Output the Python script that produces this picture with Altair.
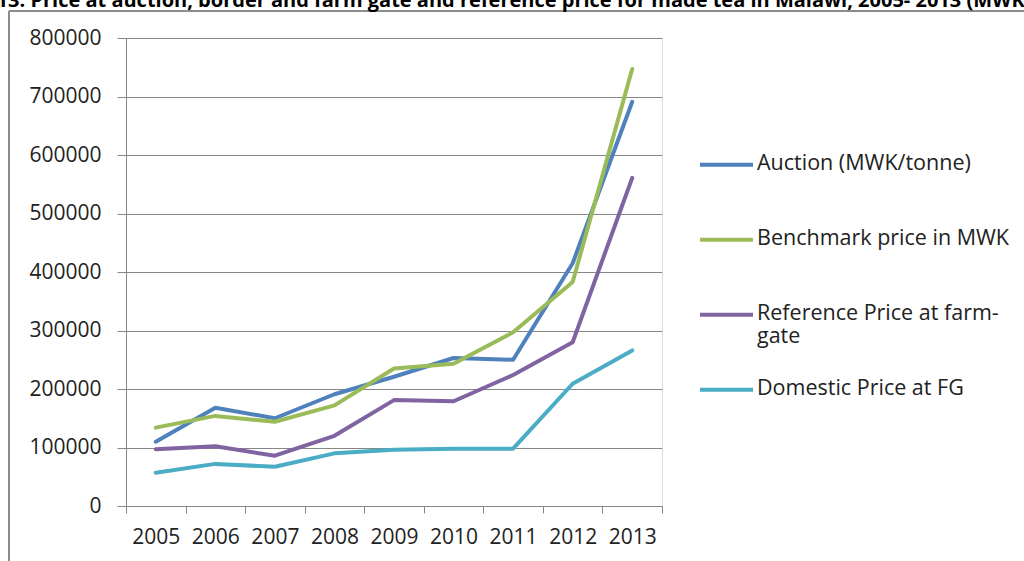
import altair as alt
import pandas as pd

years = ["2005", "2006", "2007", "2008", "2009", "2010", "2011", "2012", "2013"]

auction = [110000, 168000, 150000, 191000, 221000, 253000, 250000, 415000, 691000]
benchmark = [134000, 154000, 144000, 172000, 235000, 243000, 297000, 383000, 747000]
reference_fg = [97000, 102000, 86000, 120000, 181000, 179000, 224000, 280000, 561000]
domestic_fg = [57000, 72000, 67000, 90000, 96000, 98000, 98000, 209000, 266000]

series_names = [
    "Auction (MWK/tonne)",
    "Benchmark price in MWK",
    "Reference Price at farm-gate",
    "Domestic Price at FG",
]
series_colors = ["#4F81BD", "#9BBB59", "#8064A2", "#4BACC6"]
y_ticks = [0, 100000, 200000, 300000, 400000, 500000, 600000, 700000, 800000]

caption = ("Figure 13: Price at auction, border and farm gate and reference price "
           "for made tea in Malawi, 2005- 2013 (MWK/tonne)")

rows = []
for name, vals in zip(series_names, [auction, benchmark, reference_fg, domestic_fg]):
    for yr, v in zip(years, vals):
        rows.append({"Year": yr, "Series": name, "Price": v})
df = pd.DataFrame(rows)

FONT = "Open Sans"
GRID = "#868686"
INK = "#222222"

lines = alt.Chart(df).mark_line(
    strokeWidth=4, strokeCap="round", strokeJoin="round"
).encode(
    x=alt.X(
        "Year:N",
        sort=years,
        title=None,
        scale=alt.Scale(paddingInner=0, paddingOuter=0),
        axis=alt.Axis(
            tickBand="extent",
            tickSize=7,
            tickColor=GRID,
            domainColor=GRID,
            labelAngle=0,
            labelFontSize=21,
            labelColor=INK,
            labelFont=FONT,
            labelPadding=13,
            grid=False,
        ),
    ),
    y=alt.Y(
        "Price:Q",
        title=None,
        scale=alt.Scale(domain=[0, 800000], nice=False),
        axis=alt.Axis(
            values=y_ticks,
            format="d",
            tickSize=9,
            tickColor=GRID,
            domainColor=GRID,
            gridColor=GRID,
            labelFontSize=21,
            labelColor=INK,
            labelFont=FONT,
            labelPadding=16,
        ),
    ),
    color=alt.Color(
        "Series:N",
        sort=series_names,
        scale=alt.Scale(domain=series_names, range=series_colors),
        legend=alt.Legend(
            title=None,
            orient="none",
            legendX=572,
            legendY=86,
            padding=0,
            symbolType="M-1,0.46H1",
            symbolSize=2809,
            symbolStrokeWidth=4,
            labelFontSize=21.5,
            labelFont=FONT,
            labelColor=INK,
            labelOffset=2,
            labelBaseline="top",
            labelLimit=400,
            gridAlign="all",
            rowPadding=1,
            labelExpr="datum.label == 'Reference Price at farm-gate' ? ['Reference Price at farm-', 'gate'] : datum.label",
        ),
    ),
    order=alt.Order("Series:N"),
)

frame_df = pd.DataFrame({"k": [0]})
left_edge = alt.Chart(frame_df).mark_rule(color="#8c8c8c", strokeWidth=2).encode(
    x=alt.value(-117), y=alt.value(-27), y2=alt.value(530)
)
top_edge = alt.Chart(frame_df).mark_rule(color="#8c8c8c", strokeWidth=2).encode(
    x=alt.value(-117), x2=alt.value(910), y=alt.value(-27)
)
heading = alt.Chart(pd.DataFrame({"t": [caption]})).mark_text(
    font=FONT, fontSize=20, fontWeight="bold", align="left", baseline="alphabetic", color="#000000"
).encode(text="t:N", x=alt.value(-197), y=alt.value(-31.5))

chart = alt.layer(left_edge, top_edge, heading, lines).properties(
    width=536,
    height=468,
    autosize=alt.AutoSizeParams(type="none"),
    padding={"left": 126, "top": 38, "right": 362, "bottom": 55},
).configure_view(stroke=None).configure(background="white")

chart.save("out.html", embed_options={"renderer": "svg", "actions": False})
